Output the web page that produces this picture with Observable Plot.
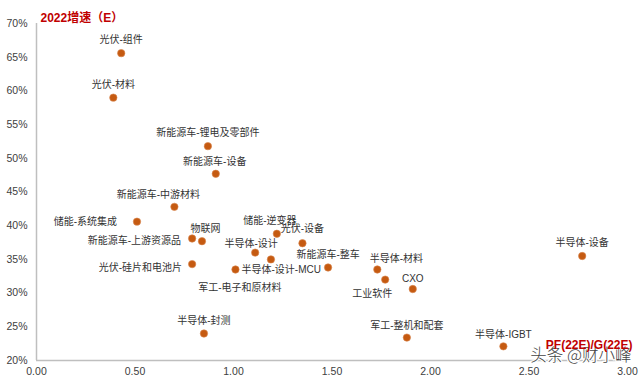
<!DOCTYPE html>
<html>
<head>
<meta charset="utf-8">
<script src="https://cdn.jsdelivr.net/npm/d3@7"></script>
<script src="https://cdn.jsdelivr.net/npm/@observablehq/plot@0.6"></script>
<style>
  html, body { margin: 0; padding: 0; background: #fff; }
  #chart { width: 640px; height: 379px; }
</style>
</head>
<body>
<div id="chart"></div>
<script>
// ---- data ----
const sectors = ["光伏-组件","光伏-材料","新能源车-锂电及零部件","新能源车-设备","新能源车-中游材料","储能-系统集成","新能源车-上游资源品","物联网","储能-逆变器","光伏-设备","光伏-硅片和电池片","半导体-设计","军工-电子和原材料","半导体-设计-MCU","新能源车-整车","半导体-材料","工业软件","CXO","半导体-设备","半导体-封测","军工-整机和配套","半导体-IGBT"];
const peg = [0.43,0.39,0.87,0.91,0.70,0.51,0.79,0.84,1.22,1.35,0.79,1.11,1.19,1.01,1.48,1.73,1.77,1.91,2.77,0.85,1.88,2.37];
const growth = [65.6,59.0,51.8,47.7,42.8,40.6,38.1,37.7,38.8,37.4,34.3,36.0,35.0,33.5,33.8,33.5,32.0,30.6,35.5,24.0,23.4,22.1];
const xTicks = [0, 0.5, 1, 1.5, 2, 2.5, 3];
const yTicks = [20, 25, 30, 35, 40, 45, 50, 55, 60, 65, 70];
const yTitle = "2022增速（E）";
const xTitle = "PF(22E)/G(22E)";
const watermark = "头条 @财小峰";

// label placement (layout only): [dx, dy, textAnchor]
const labelPlacement = [
  [0,-13,"middle"],[0,-13,"middle"],[0,-13,"middle"],[-1,-12,"middle"],
  [-16,-12,"middle"],[-20,0,"end"],[-11,2,"end"],[3.5,-12.5,"middle"],
  [-7,-13,"middle"],[0,-14,"middle"],[-10,4,"end"],[-4,-8.5,"middle"],
  [-31,28,"middle"],[6,0.5,"start"],[0,-13,"middle"],[19,-11,"middle"],
  [-13,14,"middle"],[0,-10,"middle"],[0,-13,"middle"],[0,-12.5,"middle"],
  [0,-12,"middle"],[0,-12,"middle"]
];

const table = sectors.map((s, i) => ({name: s, x: peg[i], y: growth[i]}));

const font = "'Liberation Sans', 'Noto Sans CJK SC', sans-serif";
const dotColor = "#c55a11";
const axisColor = "#bfbfbf";

const labelMarks = table.map((d, i) => Plot.text([d], {
  x: "x", y: "y", text: "name",
  dx: labelPlacement[i][0], dy: labelPlacement[i][1],
  textAnchor: labelPlacement[i][2],
  fontSize: 10, fill: "#333", fontFamily: font
}));

const chart = Plot.plot({
  width: 640,
  height: 379,
  marginLeft: 36,
  marginRight: 13,
  marginTop: 23,
  marginBottom: 19,
  style: {fontFamily: font, background: "#fff", overflow: "visible"},
  x: {domain: [0, 3]},
  y: {domain: [20, 70]},
  marks: [
    Plot.ruleX([0], {stroke: axisColor, strokeWidth: 1.5}),
    Plot.ruleY([20], {stroke: axisColor, strokeWidth: 1.5}),
    Plot.axisX({ticks: xTicks, tickSize: 0, tickPadding: 7, tickFormat: d3.format(".2f"), fontSize: 10.5, color: "#404040", label: null}),
    Plot.axisY({ticks: yTicks, tickSize: 0, tickPadding: 9, tickFormat: d => d + "%", fontSize: 10.5, color: "#404040", label: null}),
    ...labelMarks,
    Plot.dot(table, {x: "x", y: "y", r: 3.7, fill: dotColor, stroke: "#d9874f", strokeWidth: 0.6}),
    Plot.text([yTitle], {text: d => d, frameAnchor: "top-left", dx: 4, dy: -10, textAnchor: "start", fill: "#c00000", fontWeight: "bold", fontSize: 12, fontFamily: font}),
    Plot.text([watermark], {text: d => d, frameAnchor: "bottom-right", dx: 4, dy: 0, textAnchor: "end", fill: "#444", stroke: "#fff", strokeWidth: 2.5, paintOrder: "stroke", fontWeight: 300, fontSize: 16.5, fontFamily: "'Noto Sans CJK SC', sans-serif"}),
    Plot.text([xTitle], {text: d => d, frameAnchor: "bottom-right", dx: 5, dy: -12, textAnchor: "end", fill: "#c00000", fontWeight: "bold", fontSize: 12, fontFamily: font})
  ]
});
document.getElementById("chart").appendChild(chart);
</script>
</body>
</html>
